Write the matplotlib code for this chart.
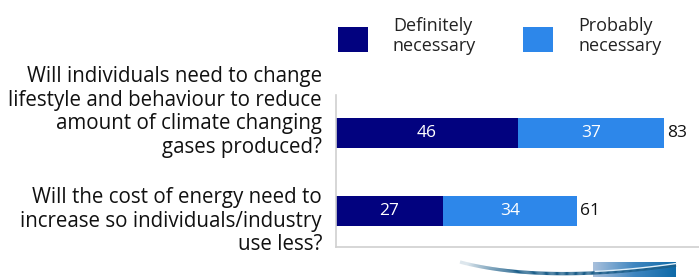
import matplotlib
matplotlib.use("Agg")
import matplotlib.pyplot as plt
import numpy as np
from matplotlib.patches import Rectangle
from matplotlib.collections import LineCollection
from matplotlib.colors import LinearSegmentedColormap

# ---- data ----
questions = [
    "Will individuals need to change\nlifestyle and behaviour to reduce\namount of climate changing\ngases produced?",
    "Will the cost of energy need to\nincrease so individuals/industry\nuse less?",
]
definitely = [46, 27]
probably = [37, 34]
totals = [83, 61]
series_names = ["Definitely\nnecessary", "Probably\nnecessary"]

dark = "#02027f"
light = "#2d87ea"

plt.rcParams['font.family'] = ['Open Sans', 'DejaVu Sans']

W, H = 699, 278
fig = plt.figure(figsize=(W / 100, H / 100), dpi=100)

def fx(px):
    return px / W

def fy(py):
    return 1 - py / H

ax_left, ax_top, ax_bot = 336, 95, 247
ax = fig.add_axes([fx(ax_left), fy(ax_bot), 1 - fx(ax_left), (ax_bot - ax_top) / H])

ypos = [1, 0]
bh = 0.387
ax.barh(ypos, definitely, height=bh, color=dark)
ax.barh(ypos, probably, left=definitely, height=bh, color=light)
for y, d, p, t in zip(ypos, definitely, probably, totals):
    ax.text(d / 2, y, str(d), color="white", ha="center", va="center", fontsize=12.5)
    ax.text(d + p / 2, y, str(p), color="white", ha="center", va="center", fontsize=12.5)
    ax.text(t + 0.8, y, str(t), color="#111111", ha="left", va="center", fontsize=12.5)

ax.set_xlim(0, (W - ax_left) / 3.95)
ax.set_ylim(-0.47, 1.49)
ax.set_xticks([])
ax.set_yticks([])
for s in ["top", "right"]:
    ax.spines[s].set_visible(False)
for s in ["left", "bottom"]:
    ax.spines[s].set_color("#d0d0d0")
    ax.spines[s].set_linewidth(1.2)

# question labels
centers = [112, 221]
for q, c in zip(questions, centers):
    fig.text(fx(322), fy(c), q, ha="right", va="center", fontsize=14.8,
             linespacing=1.17, color="#111111")

# legend
leg = [(338, 393), (523, 578)]
for (sx, tx), col, name in zip(leg, [dark, light], series_names):
    fig.add_artist(Rectangle((fx(sx), fy(52)), 30 / W, 25 / H, transform=fig.transFigure,
                             facecolor=col, edgecolor="none"))
    fig.text(fx(tx), fy(36), name, ha="left", va="center", fontsize=13,
             linespacing=1.1, color="#222222")

# decorative swoosh at the bottom
deco = fig.add_axes([0, 0, 1, 1], zorder=-1)
deco.set_xlim(0, W)
deco.set_ylim(H, 0)
deco.axis("off")
grad = np.linspace(0, 1, 100)[None, :]
cm = LinearSegmentedColormap.from_list("g", ["#a8c0dc", "#3f86c0", "#0e6aa8"])
deco.imshow(grad, cmap=cm, extent=[593, 676, 277, 262], aspect="auto")
t = np.linspace(0, 1, 200)
P0, P1, P2, P3 = np.array([460, 262]), np.array([520, 278]), np.array([600, 276]), np.array([676, 265])
pts = ((1 - t)[:, None] ** 3 * P0 + 3 * ((1 - t) ** 2 * t)[:, None] * P1
       + 3 * ((1 - t) * t ** 2)[:, None] * P2 + (t ** 3)[:, None] * P3)
segs = np.stack([pts[:-1], pts[1:]], axis=1)
cols = np.zeros((len(segs), 4))
cols[:, :3] = np.array([0x1d, 0x5f, 0x8a]) / 255
cols[:, 3] = np.clip(t[:-1] * 4, 0.15, 1.0)
deco.add_collection(LineCollection(segs, colors=cols, linewidths=2.4))
mask = pts[:, 0] > 595
deco.plot(pts[mask, 0], pts[mask, 1] - 1.5, color="#e0f0fa", lw=1.0)

fig.savefig("out.png", dpi=100)
